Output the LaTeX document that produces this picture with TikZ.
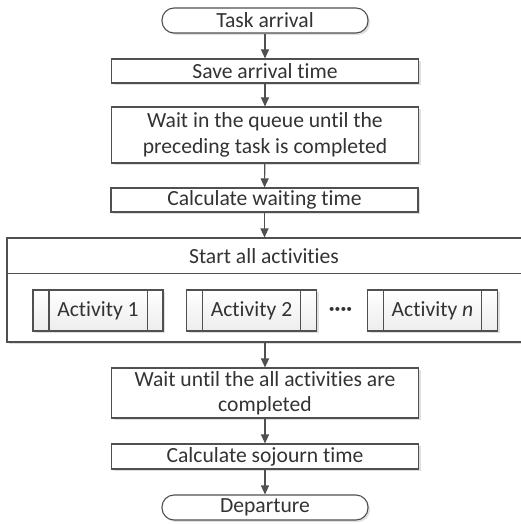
\documentclass[tikz,border=0pt]{standalone}
\usepackage{fontspec}
\setmainfont{Carlito}[Ligatures=NoCommon]
\usetikzlibrary{arrows.meta}
\usetikzlibrary{shadows}

\definecolor{linegray}{HTML}{505050}
\definecolor{textgray}{HTML}{333333}
\tikzset{
  procbox/.style={draw=linegray, line width=1.1pt, fill=white, minimum width=307pt,
    inner sep=0pt, align=center, text=textgray,
    drop shadow={shadow xshift=2pt, shadow yshift=-2pt, opacity=0.25, fill=gray}},
  termbox/.style={procbox, rounded corners=12pt, minimum width=206pt, minimum height=25pt},
  actbox/.style={procbox, minimum width=130pt, minimum height=41pt,
    top color=white, bottom color=gray!14},
  flow/.style={draw=linegray, line width=1.1pt, -{Triangle[width=8pt,length=9pt]}},
}

\begin{document}
\begin{tikzpicture}[x=1pt,y=-1pt,font=\fontsize{21.6}{25.5}\selectfont]
      \useasboundingbox (0,0) rectangle (520,524);
      \node[termbox] (arrival) at (265,20.5) {Task arrival};
      \node[procbox, minimum height=24pt] (save) at (265,71) {Save arrival time};
      \node[procbox, minimum height=56pt] (queue) at (265,135)
            {Wait in the queue until the\\preceding task is completed};
      \node[procbox, minimum height=24pt] (waiting) at (264.5,200) {Calculate waiting time};
      \node[procbox, minimum width=516pt, minimum height=104pt] (group) at (265,290) {};
      \node[text=textgray] (start) at (264,256) {Start all activities};
      \draw[linegray, line width=1.1pt] ([yshift=-36pt]group.north west) -- ([yshift=-36pt]group.north east);
      \foreach \i/\x/\t in {1/98/Activity 1, 2/251.5/Activity 2, n/432.5/Activity \textit{n}} {
	\node[actbox] (act\i) at (\x,310.5) {\t};
	\draw[linegray, line width=1.1pt] ([xshift=16.5pt]act\i.north west) -- ([xshift=16.5pt]act\i.south west)
			([xshift=-16.5pt]act\i.north east) -- ([xshift=-16.5pt]act\i.south east);
      }
      \node[text=textgray] (dots) at (340.5,311) {\textbf{····}};
      \node[procbox, minimum height=50pt] (until) at (265,393)
            {Wait until the all activities are\\completed};
      \node[procbox, minimum height=25pt] (sojourn) at (265,456.5) {Calculate sojourn time};
      \node[termbox] (departure) at (265,507.5) {Departure};
      \draw[flow] (arrival) -- (save);
      \draw[flow] (save) -- (queue);
      \draw[flow] (queue) -- (waiting);
      \draw[flow] (waiting.south) -- (waiting.south |- group.north);
      \draw[flow] (group.south -| until.north) -- (until.north);
      \draw[flow] (until) -- (sojourn);
      \draw[flow] (sojourn) -- (departure);
    \end{tikzpicture}
\end{document}
